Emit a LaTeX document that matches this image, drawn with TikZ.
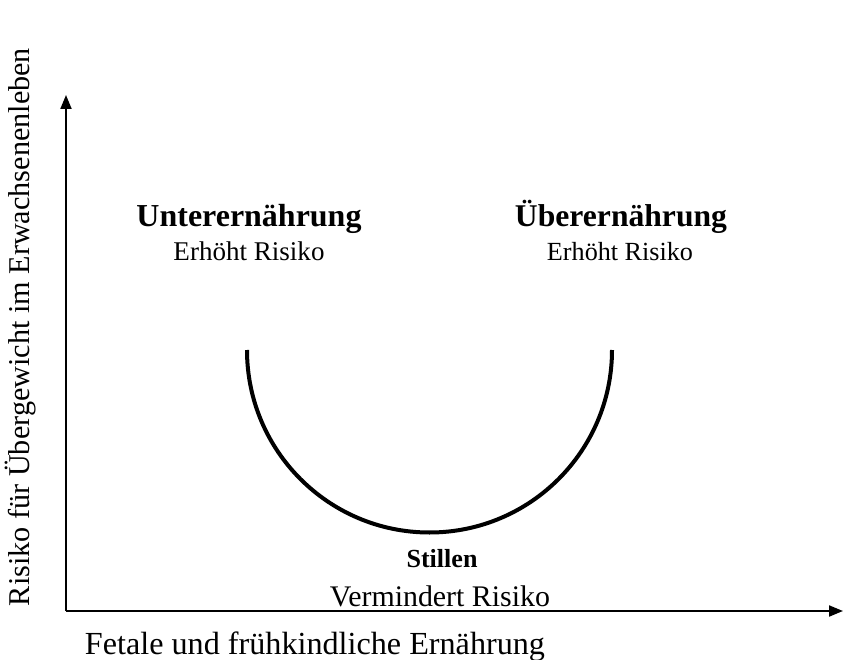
\documentclass[tikz,border=0pt]{standalone}
\usepackage{fontspec}
\setmainfont{Liberation Serif}
\usetikzlibrary{arrows.meta}
\tikzset{
  axis/.style={line width=2pt,-{Triangle[length=14pt,width=11pt]}},
  curve/.style={line width=4pt},
  lbl/.style={inner sep=0pt,anchor=base}
}
\begin{document}
\begin{tikzpicture}[x=1pt,y=-1pt]
\useasboundingbox[fill=white] (0,0) rectangle (843,660);
\coordinate (O) at (66,611);
\coordinate (ytip) at (66,95);
\coordinate (xtip) at (843,611);
\draw[axis] (O) -- (ytip);
\draw[axis] (O) -- (xtip);
\draw[curve] (247,350) arc[start angle=180,end angle=0,radius=182.5];
\node[lbl] (u1) at (249,227) {\resizebox{225pt}{!}{\bfseries Unterernährung}};
\node[lbl] (u2) at (249,261) {\resizebox{151pt}{!}{Erhöht Risiko}};
\node[lbl] (o1) at (621,227) {\resizebox{212pt}{!}{\bfseries Überernährung}};
\node[lbl] (o2) at (620,261) {\resizebox{146pt}{!}{Erhöht Risiko}};
\node[lbl] (s1) at (442,567) {\resizebox{71pt}{!}{\bfseries Stillen}};
\node[lbl] (s2) at (440,606) {\resizebox{220pt}{!}{Vermindert Risiko}};
\node[lbl] (xl) at (315,654) {\resizebox{460pt}{!}{Fetale und frühkindliche Ernährung}};
\node[lbl,rotate=90] (yl) at (29,327) {\resizebox{558pt}{!}{Risiko für Übergewicht im Erwachsenenleben}};
\end{tikzpicture}
\end{document}
